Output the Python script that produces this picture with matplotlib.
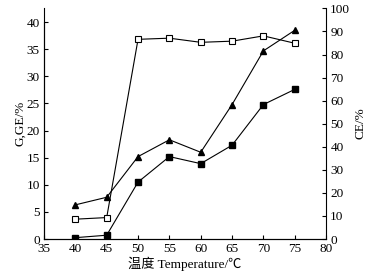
import matplotlib
matplotlib.use("Agg")
import matplotlib.pyplot as plt

plt.rcParams["font.family"] = ["Liberation Serif", "Noto Sans CJK SC"]
plt.rcParams["font.size"] = 9.5

# data
temp = [40, 45, 50, 55, 60, 65, 70, 75]
ge = [6.3, 7.7, 15.2, 18.3, 16.0, 24.8, 34.7, 38.5]      # filled triangles, left axis
g = [0.25, 0.7, 10.5, 15.2, 13.9, 17.3, 24.8, 27.6]      # filled squares, left axis
ce = [8.6, 9.3, 86.6, 87.1, 85.3, 85.8, 88.1, 84.9]      # open squares, right axis

fig = plt.figure(figsize=(3.71, 2.73), dpi=100)
ax = fig.add_axes([0.1186, 0.1245, 0.7604, 0.848])
ax2 = ax.twinx()

ax.plot(temp, ge, "-^", color="black", lw=0.8, ms=4.5)
ax.plot(temp, g, "-s", color="black", lw=0.8, ms=3.8)
ax2.plot(temp, ce, "-s", color="black", mfc="white", lw=0.8, ms=3.8, mew=0.8)

ax.set_xlim(35, 80)
ax.set_ylim(0, 42.7)
ax2.set_ylim(0, 100.4)
ax.set_xticks(range(35, 81, 5))
ax.set_yticks(range(0, 41, 5))
ax2.set_yticks(range(0, 101, 10))
ax.spines["left"].set_bounds(0, 40)
for a in (ax, ax2):
    a.spines["top"].set_visible(False)
    a.tick_params(direction="in", length=3, width=0.8, pad=3)
ax.spines["right"].set_visible(False)

ax.set_xlabel("温度 Temperature/℃", labelpad=1)
ax.set_ylabel("G,GE/%", labelpad=0)
ax2.set_ylabel("CE/%", labelpad=3)

fig.savefig("out.png", dpi=100)
